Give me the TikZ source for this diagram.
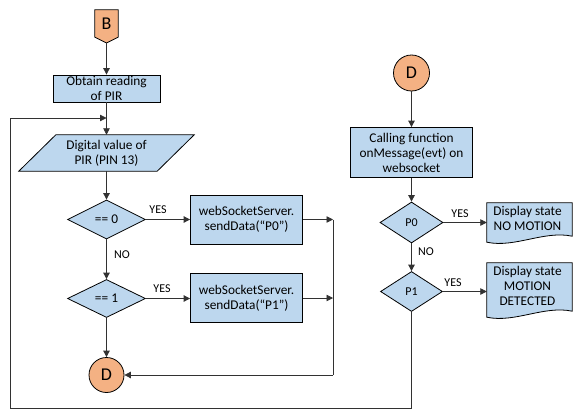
\documentclass[tikz,border=0pt]{standalone}
\usepackage{fontspec}
\setmainfont{Carlito}
\usetikzlibrary{shapes.geometric,arrows.meta,calc}
\definecolor{boxblue}{RGB}{189,215,238}
\definecolor{conorange}{RGB}{244,177,131}
\definecolor{linegray}{RGB}{50,50,50}
\begin{document}
\begin{tikzpicture}[x=1pt,y=-1pt,
  txt/.style={font=\fontsize{13.33}{15}\selectfont, align=center, inner sep=0pt},
  procbox/.style={txt, rectangle, draw=black, fill=boxblue, line width=0.8pt},
  decision/.style={txt, diamond, draw=black, fill=boxblue, line width=0.8pt, inner sep=0pt},
  connector/.style={circle, draw=black, fill=conorange, line width=0.8pt, inner sep=0pt, font=\fontsize{18}{20}\selectfont},
  shapeline/.style={draw=black, fill=boxblue, line width=0.8pt},
  lbl/.style={font=\fontsize{12}{14}\selectfont, inner sep=0pt},
  arr/.style={line width=0.8pt, draw=linegray, -{Triangle[length=6.5pt,width=6.5pt]}},
  ln/.style={line width=0.8pt, draw=linegray}]
\useasboundingbox (0,0) rectangle (583,415);

% ---------- left column ----------
\node[txt, minimum width=23pt, minimum height=27pt, font=\fontsize{18}{20}\selectfont] (B) at (106.5,23.5) {};
\coordinate (Btip) at (106.5,43);
\draw[draw=black, fill=conorange, line width=0.8pt] (B.north west) -- (B.north east) -- (B.south east) -- (Btip) -- (B.south west) -- cycle;
\node[txt, font=\fontsize{18}{20}\selectfont] at (B.center) {B};

\node[procbox, minimum width=107pt, minimum height=27pt] (obt) at (106.5,88.5) {Obtain reading\\of PIR};
\coordinate (join) at (106.5,118);

\node[txt, minimum width=138pt, minimum height=36pt] (dig) at (106.5,153) {};
\draw[shapeline] ($(dig.north west)+(18.5,0)$) -- ($(dig.north east)+(18.5,0)$) -- ($(dig.south east)+(-18.5,0)$) -- ($(dig.south west)+(-18.5,0)$) -- cycle;
\node[txt] at (dig.center) {Digital value of\\PIR (PIN 13)};

\node[decision, minimum width=78pt, minimum height=39pt] (d0) at (106.5,219.5) {== 0};
\node[procbox, minimum width=112pt, minimum height=49pt] (s0) at (246.5,219.5) {webSocketServer.\\sendData(“P0”)};
\coordinate (m0) at (333,219.5);

\node[decision, minimum width=78pt, minimum height=38pt] (d1) at (106.5,298.5) {== 1};
\node[procbox, minimum width=112pt, minimum height=49pt] (s1) at (246.5,298) {webSocketServer.\\sendData(“P1”)};
\coordinate (m1) at (333,298);
\coordinate (mc) at (333,375);

\node[connector, minimum size=35pt] (Dl) at (106.5,375) {D};

\node[lbl] (y0) at (158,210) {YES};
\node[lbl, anchor=west] (n0) at (114,255) {NO};
\node[lbl] (y1) at (162,289) {YES};

% ---------- right column ----------
\node[connector, minimum size=36pt] (Dr) at (411.5,73) {D};
\node[procbox, minimum width=122pt, minimum height=50pt] (call) at (411.5,152.5) {Calling function\\onMessage(evt) on\\websocket};
\node[decision, minimum width=63pt, minimum height=41pt, font=\fontsize{12}{14}\selectfont] (p0) at (411.5,222.5) {P0};
\node[decision, minimum width=62pt, minimum height=40pt, font=\fontsize{12}{14}\selectfont] (p1) at (411.5,291.5) {P1};

\node[txt, minimum width=85pt, minimum height=33pt] (doc0) at (529.5,219.5) {};
\draw[shapeline] (doc0.north west) -- (doc0.north east) -- (doc0.south east)
  .. controls ($(doc0.south east)+(-28,-6)$) and ($(doc0.south west)+(28,12)$) .. ($(doc0.south west)+(0,6)$) -- cycle;
\node[txt] at ($(doc0.center)+(-2,-1)$) {Display state\\NO MOTION};

\node[txt, minimum width=85pt, minimum height=48pt] (doc1) at (529.5,287) {};
\draw[shapeline] (doc1.north west) -- (doc1.north east) -- (doc1.south east)
  .. controls ($(doc1.south east)+(-28,-6)$) and ($(doc1.south west)+(28,12)$) .. ($(doc1.south west)+(0,6)$) -- cycle;
\node[txt] at ($(doc1.center)+(-2,-1)$) {Display state\\MOTION\\DETECTED};

\node[lbl] (y2) at (460,214) {YES};
\node[lbl, anchor=west] (n1) at (418,252) {NO};
\node[lbl] (y3) at (453,283) {YES};

\coordinate (rb) at (411.5,408);
\coordinate (lb) at (10,408);

% ---------- connectors ----------
\draw[arr] (Btip) -- (obt.north);
\draw[arr] (obt.south) -- (dig.north);
\draw[arr] (dig.south) -- (d0.north);
\draw[arr] (d0.east) -- (s0.west);
\draw[arr] (d0.south) -- (d1.north);
\draw[arr] (d1.east) -- (d1.east -| s1.west);
\draw[arr] (d1.south) -- (Dl.north);
\draw[arr] (s0.east) -- (m0);
\draw[arr] (s1.east) -- (m1);
\draw[ln] (m0) -- (mc);
\draw[arr] (mc) -- (Dl.east);

\draw[arr] (Dr.south) -- (call.north);
\draw[arr] (call.south) -- (p0.north);
\draw[arr] (p0.south) -- (p1.north);
\draw[arr] (p0.east) -- (p0.east -| doc0.west);
\draw[arr] (p1.east) -- (p1.east -| doc1.west);
\draw[arr] (p1.south) -- (rb) -- (lb) -- (lb |- join) -- (join);
\end{tikzpicture}
\end{document}
